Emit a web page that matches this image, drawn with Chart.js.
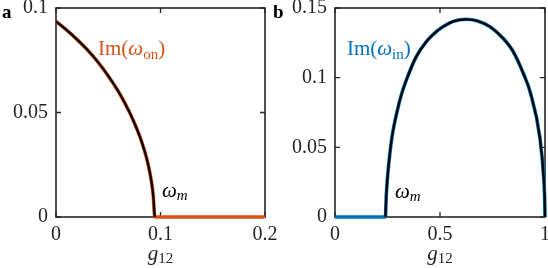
<!DOCTYPE html>
<html lang="en">
<head>
<meta charset="UTF-8">
<title>Im(omega) vs g12</title>
<script src="https://cdn.jsdelivr.net/npm/chart.js"></script>
<style>
    body { margin: 0; background: #fff; width: 548px; height: 268px; overflow: hidden; position: relative; }
    .painel { position: absolute; top: 0; height: 268px; }
</style>
</head>
<body>
<!-- panel a is a bit wider so its last tick label is not cut; panel b sits on top, transparent -->
<div class="painel" style="left:0; width:290px"><canvas id="chartA" width="290" height="268"></canvas></div>
<div class="painel" style="left:274px; width:274px"><canvas id="chartB" width="274" height="268"></canvas></div>
<script>
// panel a: Im(omega_on) against g12
const gA    = [0, 0.01, 0.02, 0.03, 0.04, 0.05, 0.06, 0.07, 0.075, 0.08, 0.085, 0.088, 0.091, 0.093, 0.0945, 0.2];
const imOn  = [0.0936, 0.0895, 0.0850, 0.0800, 0.0742, 0.0675, 0.0598, 0.0505, 0.0450, 0.0388, 0.0312, 0.0255, 0.0180, 0.0105, 0, 0];
const ticksAx = [0, 0.1, 0.2];
const ticksAy = [0, 0.05, 0.1];

// panel b: Im(omega_in) against g12
const gB    = [0, 0.240, 0.2443, 0.251, 0.2605, 0.2729, 0.2919, 0.3157, 0.349, 0.3871, 0.4348, 0.4824, 0.5143,
               0.563, 0.625, 0.675, 0.738, 0.80, 0.849, 0.90, 0.929, 0.976, 0.995, 0.9986, 1];
const imIn  = [0, 0, 0.0158, 0.0301, 0.0445, 0.0589, 0.0732, 0.0876, 0.1019, 0.1151, 0.1258, 0.1330, 0.1366,
               0.1404, 0.1419, 0.1408, 0.1366, 0.1283, 0.1186, 0.1019, 0.0899, 0.0565, 0.0253, 0.0122, 0];
const ticksBx = [0, 0.5, 1];
const ticksBy = [0, 0.05, 0.1, 0.15];

const SERIF = '"Liberation Serif", serif';
const AXIS_COLOR = '#262626';

function pts(xs, ys) { return xs.map((x, i) => ({ x: x, y: ys[i] })); }

// draws a row of text pieces (italic / subscript) one after the other
function richText(ctx, parts, x, y, color) {
    ctx.save();
    ctx.fillStyle = color;
    ctx.textBaseline = 'alphabetic';
    ctx.textAlign = 'left';
    let cx = x;
    for (const p of parts) {
        ctx.font = (p.italic ? 'italic ' : '') + p.size + 'px ' + SERIF;
        ctx.fillText(p.t, cx, y + (p.dy || 0));
        cx += ctx.measureText(p.t).width;
    }
    ctx.restore();
}

function richWidth(ctx, parts) {
    let w = 0;
    ctx.save();
    for (const p of parts) {
        ctx.font = (p.italic ? 'italic ' : '') + p.size + 'px ' + SERIF;
        w += ctx.measureText(p.t).width;
    }
    ctx.restore();
    return w;
}

// box + inward ticks, drawn under the curves like matlab
const caixaPlugin = {
    id: 'caixa',
    beforeDatasetsDraw(chart) {
        const { ctx, chartArea: a, scales } = chart;
        ctx.save();
        ctx.strokeStyle = AXIS_COLOR;
        ctx.lineWidth = 1.6;
        ctx.strokeRect(a.left, a.top, a.right - a.left, a.bottom - a.top);
        ctx.lineWidth = 1.3;
        ctx.beginPath();
        for (const t of scales.x.ticks) {
            const px = scales.x.getPixelForValue(t.value);
            ctx.moveTo(px, a.bottom); ctx.lineTo(px, a.bottom - 5);
            ctx.moveTo(px, a.top); ctx.lineTo(px, a.top + 5);
        }
        for (const t of scales.y.ticks) {
            const py = scales.y.getPixelForValue(t.value);
            ctx.moveTo(a.left, py); ctx.lineTo(a.left + 5, py);
            ctx.moveTo(a.right, py); ctx.lineTo(a.right - 5, py);
        }
        ctx.stroke();
        ctx.restore();
    },
    afterDraw(chart) {
        const { ctx, chartArea: a, scales } = chart;
        const o = chart.options.plugins.caixa;
        // x label g_12
        const lab = [{ t: 'g', italic: true, size: 21 }, { t: '12', size: 15, dy: 3 }];
        const w = richWidth(ctx, lab);
        richText(ctx, lab, (a.left + a.right) / 2 - w / 2, 260, AXIS_COLOR);
        // panel letter
        ctx.save();
        ctx.font = 'bold 19px ' + SERIF;
        ctx.fillStyle = '#000';
        ctx.textBaseline = 'alphabetic';
        ctx.fillText(o.letra, o.letraX, 18);
        ctx.restore();
        // curve name
        richText(ctx, [
            { t: 'Im(', size: 21 },
            { t: 'ω', italic: true, size: 21 },
            { t: o.sub, size: 15, dy: 4 },
            { t: ')', size: 21 }
        ], scales.x.getPixelForValue(o.nome[0]), scales.y.getPixelForValue(o.nome[1]), o.cor);
        // omega_m
        richText(ctx, [
            { t: 'ω', italic: true, size: 21 },
            { t: 'm', italic: true, size: 15, dy: 3 }
        ], scales.x.getPixelForValue(o.wm[0]), scales.y.getPixelForValue(o.wm[1]), '#000');
    }
};

function montar(id, xs, ys, curvaXs, curvaYs, cor, xr, yr, tx, ty, leftW, rightPad, extra) {
    new Chart(document.getElementById(id), {
        type: 'scatter',
        data: {
            datasets: [
                {
                    // black line on top
                    data: pts(curvaXs, curvaYs),
                    order: 0,
                    showLine: true,
                    borderColor: '#000',
                    borderWidth: 2.2,
                    pointRadius: 0,
                    cubicInterpolationMode: 'monotone',
                    clip: 4
                },
                {
                    data: pts(xs, ys),
                    order: 1,
                    showLine: true,
                    borderColor: cor,
                    borderWidth: 3.6,
                    pointRadius: 0,
                    cubicInterpolationMode: 'monotone',
                    clip: 4
                }
            ]
        },
        options: {
            responsive: false,
            animation: false,
            events: [],
            layout: { padding: { top: 8, right: rightPad, bottom: 0, left: 0 } },
            plugins: { legend: { display: false }, tooltip: { enabled: false }, caixa: extra },
            scales: {
                x: {
                    type: 'linear', min: xr[0], max: xr[1],
                    grid: { display: false, drawTicks: false },
                    border: { display: false },
                    afterBuildTicks: s => { s.ticks = tx.map(v => ({ value: v })); },
                    afterFit: s => { s.height = 51; s.paddingLeft = 0; s.paddingRight = 0; },
                    ticks: {
                        color: AXIS_COLOR, padding: 6, maxRotation: 0,
                        font: { family: SERIF, size: 20 },
                        callback: v => String(v)
                    }
                },
                y: {
                    type: 'linear', min: yr[0], max: yr[1],
                    grid: { display: false, drawTicks: false },
                    border: { display: false },
                    afterBuildTicks: s => { s.ticks = ty.map(v => ({ value: v })); },
                    afterFit: s => { s.width = leftW; s.paddingTop = 0; s.paddingBottom = 0; },
                    ticks: {
                        color: AXIS_COLOR, padding: 8,
                        font: { family: SERIF, size: 20 },
                        callback: v => String(v)
                    }
                }
            }
        },
        plugins: [caixaPlugin]
    });
}

montar('chartA', gA, imOn, gA.slice(0, -1), imOn.slice(0, -1), '#D95319',
    [0, 0.2], [0, 0.1], ticksAx, ticksAy, 56, 25,
    { letra: 'a', letraX: 2, sub: 'on', cor: '#D95319', nome: [0.0402, 0.0776], wm: [0.1014, 0.0096] });

montar('chartB', gB, imIn, gB.slice(1), imIn.slice(1), '#0072BD',
    [0, 1], [0, 0.15], ticksBx, ticksBy, 61, 3,
    { letra: 'b', letraX: -1, sub: 'in', cor: '#0072BD', nome: [0.057, 0.1163], wm: [0.2857, 0.0136] });
</script>
</body>
</html>
